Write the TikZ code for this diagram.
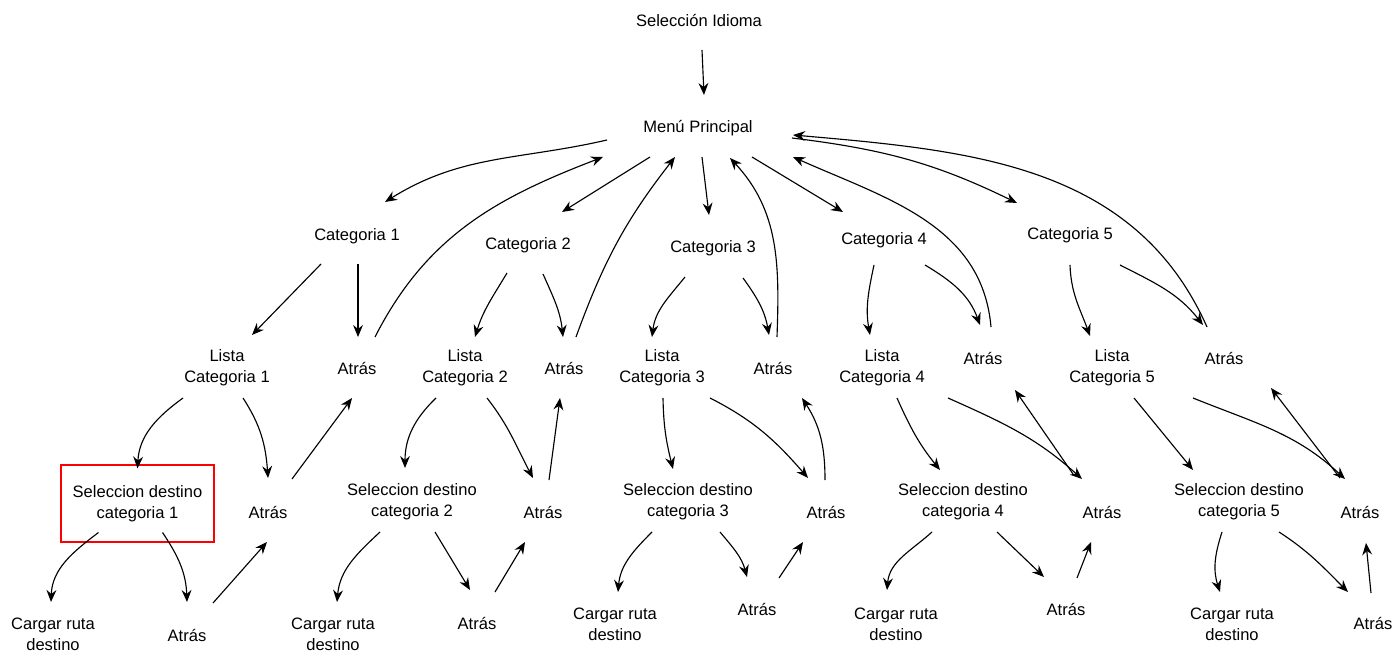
\documentclass[tikz,border=0pt]{standalone}
\usepackage{fontspec}
\setmainfont{Liberation Sans}
\usetikzlibrary{calc,arrows.meta}
\begin{document}
\begin{tikzpicture}[x=0.75pt,y=-0.75pt,
  lbl/.style={font=\fontsize{12.4pt}{15.75pt}\selectfont, align=center, inner sep=0pt},
  redbox/.style={lbl, draw=red, line width=1.5pt, minimum width=114.75pt, minimum height=57.75pt},
  arr/.style={-{Stealth[length=9pt,width=7.4pt,inset=3pt]}, line width=0.85pt, black}]
\useasboundingbox (0,0) rectangle (1396,652);
% nodes
\node[lbl] (idioma) at (699,20) {Selección Idioma};
\node[lbl] (menu) at (698,128) {Menú Principal};
\node[lbl] (c1) at (357,236) {Categoria 1};
\node[lbl] (c2) at (528,245) {Categoria 2};
\node[lbl] (c3) at (713,248) {Categoria 3};
\node[lbl] (c4) at (884,240) {Categoria 4};
\node[lbl] (c5) at (1070,235) {Categoria 5};
\node[lbl] (l1) at (227,368) {Lista\\Categoria 1};
\node[lbl] (l2) at (465,368) {Lista\\Categoria 2};
\node[lbl] (l3) at (662,368) {Lista\\Categoria 3};
\node[lbl] (l4) at (882,368) {Lista\\Categoria 4};
\node[lbl] (l5) at (1112,368) {Lista\\Categoria 5};
\node[lbl] (a1) at (357,368) {Atrás};
\node[lbl] (a2) at (564,368) {Atrás};
\node[lbl] (a3) at (773,368) {Atrás};
\node[lbl] (a4) at (983,358) {Atrás};
\node[lbl] (a5) at (1224,358) {Atrás};
\node[redbox] (s1) at (137.5,503.5) {Seleccion destino\\categoria 1};
\node[lbl] (s2) at (412,502) {Seleccion destino\\categoria 2};
\node[lbl] (s3) at (688,502) {Seleccion destino\\categoria 3};
\node[lbl] (s4) at (963,502) {Seleccion destino\\categoria 4};
\node[lbl] (s5) at (1239,502) {Seleccion destino\\categoria 5};
\node[lbl] (b1) at (268,512) {Atrás};
\node[lbl] (b2) at (543,512) {Atrás};
\node[lbl] (b3) at (826,512) {Atrás};
\node[lbl] (b4) at (1102,512) {Atrás};
\node[lbl] (b5) at (1360,512) {Atrás};
\node[lbl] (g1) at (53,634) {Cargar ruta\\destino};
\node[lbl] (g2) at (333,634) {Cargar ruta\\destino};
\node[lbl] (g3) at (615,624) {Cargar ruta\\destino};
\node[lbl] (g4) at (896,624) {Cargar ruta\\destino};
\node[lbl] (g5) at (1232,624) {Cargar ruta\\destino};
\node[lbl] (d1) at (187,635) {Atrás};
\node[lbl] (d2) at (477,623) {Atrás};
\node[lbl] (d3) at (757,609) {Atrás};
\node[lbl] (d4) at (1066,609) {Atrás};
\node[lbl] (d5) at (1373,623) {Atrás};
% top level
\draw[arr] ($(idioma)+(3,30)$) -- ($(menu)+(6,-33)$);
\draw[arr] ($(menu)+(-91,12)$) to[out=193,in=32] ($(c1)+(28,-34)$);
\draw[arr] ($(a1)+(18,-31)$) to[out=63,in=201] ($(menu)+(-95,29)$);
\draw[arr] ($(menu)+(-48,29)$) -- ($(c2)+(34,-33)$);
\draw[arr] ($(a2)+(12,-31)$) to[out=70,in=232] ($(menu)+(-23,29)$);
\draw[arr] ($(menu)+(4,29)$) -- ($(c3)+(-4,-33)$);
\draw[arr] ($(a3)+(4,-31)$) to[out=88,in=-47] ($(menu)+(32,30)$);
\draw[arr] ($(menu)+(54,29)$) -- ($(c4)+(-41,-28)$);
\draw[arr] ($(a4)+(8,-31)$) to[out=95,in=-24] ($(menu)+(95,29)$);
\draw[arr] ($(menu)+(94,10)$) to[out=-7,in=154] ($(c5)+(-53,-32)$);
\draw[arr] ($(a5)+(-17,-31)$) to[out=114,in=-5] ($(menu)+(95,7)$);
% categories
\draw[arr] ($(c1)+(-36,28)$) -- ($(l1)+(25,-33)$);
\draw[arr] ($(c1)+(1,28)$) -- ($(a1)+(1,-31)$);
\draw[arr] ($(c2)+(-21,28)$) to[out=-121,in=73] ($(l2)+(10,-31)$);
\draw[arr] ($(c2)+(15,29)$) to[out=-66,in=96] ($(a2)+(-1,-31)$);
\draw[arr] ($(c3)+(-28,29)$) to[out=-129,in=83] ($(l3)+(-10,-31)$);
\draw[arr] ($(c3)+(30,30)$) to[out=-54,in=100] ($(a3)+(-4,-33)$);
\draw[arr] ($(c4)+(-10,25)$) to[out=-102,in=100] ($(l4)+(-12,-33)$);
\draw[arr] ($(c4)+(41,25)$) to[out=-31,in=110] ($(a4)+(-3,-33)$);
\draw[arr] ($(c5)+(0,30)$) to[out=-88,in=110] ($(l5)+(-22,-32)$);
\draw[arr] ($(c5)+(50,30)$) to[out=-27,in=128] ($(a5)+(-21,-33)$);
% lists
\draw[arr] ($(l1)+(-44,30)$) to[out=-144,in=87] ($(s1)+(0,-35)$);
\draw[arr] ($(l1)+(16,30)$) to[out=-57,in=94] ($(b1)+(0,-34)$);
\draw[arr] ($(b1)+(24,-33)$) -- ($(a1)+(-5,30)$);
\draw[arr] ($(l2)+(-29,30)$) to[out=-136,in=90] ($(s2)+(-7,-34)$);
\draw[arr] ($(l2)+(22,30)$) to[out=-52,in=118] ($(b2)+(-10,-34)$);
\draw[arr] ($(b2)+(6,-32)$) -- ($(a2)+(-4,30)$);
\draw[arr] ($(l3)+(1,30)$) to[out=-89,in=104] ($(s3)+(-15,-33)$);
\draw[arr] ($(l3)+(48,30)$) to[out=-27,in=131] ($(b3)+(-18,-34)$);
\draw[arr] ($(b3)+(-1,-32)$) to[out=90,in=-57] ($(a3)+(29,30)$);
\draw[arr] ($(l4)+(15,30)$) to[out=-66,in=129] ($(s4)+(-23,-32)$);
\draw[arr] ($(l4)+(66,30)$) to[out=-24,in=138] ($(b4)+(-20,-33)$);
\draw[arr] ($(b4)+(-29,-38)$) -- ($(a4)+(32,32)$);
\draw[arr] ($(l5)+(22,30)$) -- ($(s5)+(-46,-32)$);
\draw[arr] ($(l5)+(81,30)$) to[out=-22,in=137] ($(b5)+(-15,-33)$);
\draw[arr] ($(b5)+(-20,-34)$) -- ($(a5)+(47,30)$);
% selections
\draw[arr] ($(s1)+(-39,29)$) to[out=-143,in=88] ($(g1)+(-2,-32)$);
\draw[arr] ($(s1)+(25,29)$) to[out=-56,in=92] ($(d1)+(0,-33)$);
\draw[arr] ($(d1)+(26,-32)$) -- ($(b1)+(-1,30)$);
\draw[arr] ($(s2)+(-32,30)$) to[out=-137,in=85] ($(g2)+(4,-32)$);
\draw[arr] ($(s2)+(23,30)$) -- ($(d2)+(-7,-33)$);
\draw[arr] ($(d2)+(18,-31)$) -- ($(b2)+(-18,30)$);
\draw[arr] ($(s3)+(-36,30)$) to[out=-135,in=85] ($(g3)+(3,-32)$);
\draw[arr] ($(s3)+(32,30)$) to[out=-50,in=105] ($(d3)+(-10,-32)$);
\draw[arr] ($(d3)+(22,-31)$) -- ($(b3)+(-23,30)$);
\draw[arr] ($(s4)+(-31,30)$) to[out=-138,in=85] ($(g4)+(-9,-34)$);
\draw[arr] ($(s4)+(34,30)$) -- ($(d4)+(-22,-32)$);
\draw[arr] ($(d4)+(11,-31)$) -- ($(b4)+(-11,30)$);
\draw[arr] ($(s5)+(-17,30)$) to[out=-108,in=108] ($(g5)+(-12,-32)$);
\draw[arr] ($(s5)+(40,30)$) to[out=-33,in=135] ($(d5)+(-25,-31)$);
\draw[arr] ($(d5)+(-2,-30)$) -- ($(b5)+(6,31)$);
\end{tikzpicture}
\end{document}
